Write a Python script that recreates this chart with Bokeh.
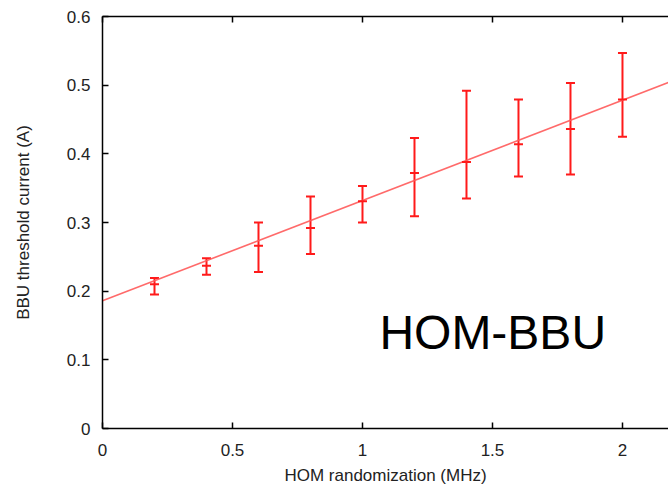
from bokeh.plotting import figure
from bokeh.models import ColumnDataSource, Whisker, TeeHead, LinearAxis, Label, Range1d, FixedTicker
from bokeh.embed import file_html
from bokeh.resources import INLINE

# ---- data ----
freq = [0.2, 0.4, 0.6, 0.8, 1.0, 1.2, 1.4, 1.6, 1.8, 2.0]
current = [0.210, 0.237, 0.266, 0.292, 0.331, 0.372, 0.388, 0.414, 0.436, 0.479]
err_low = [0.195, 0.224, 0.228, 0.254, 0.300, 0.309, 0.335, 0.367, 0.370, 0.425]
err_high = [0.219, 0.248, 0.300, 0.338, 0.353, 0.423, 0.492, 0.479, 0.503, 0.547]
fit_intercept = 0.186
fit_slope = 0.146
x_ticks = [0, 0.5, 1, 1.5, 2]
x_tick_labels = ["0", "0.5", "1", "1.5", "2"]
y_ticks = [0, 0.1, 0.2, 0.3, 0.4, 0.5, 0.6]
y_tick_labels = ["0", "0.1", "0.2", "0.3", "0.4", "0.5", "0.6"]
x_label = "HOM randomization (MHz)"
y_label = "BBU threshold current (A)"
annotation = "HOM-BBU"

X_MAX = 2.177
RED = "#ff1a1a"
FONT = "Liberation Sans"

p = figure(width=668, height=490, output_backend="svg", toolbar_location=None,
           x_range=Range1d(0, X_MAX), y_range=Range1d(0, 0.6),
           min_border_left=102, min_border_right=0, min_border_top=16, min_border_bottom=62)
p.outline_line_color = None
p.grid.visible = False
p.background_fill_color = "white"
p.border_fill_color = "white"

# fit line
fit_x = [0, X_MAX]
fit_y = [fit_intercept + fit_slope * v for v in fit_x]
p.line(fit_x, fit_y, line_color="#ff5a5a", line_width=1.6, line_alpha=0.9)

src = ColumnDataSource(dict(x=freq, y=current, lo=err_low, hi=err_high))
w = Whisker(source=src, base="x", lower="lo", upper="hi", line_color=RED, line_width=2,
            upper_head=TeeHead(size=9, line_color=RED, line_width=2),
            lower_head=TeeHead(size=9, line_color=RED, line_width=2))
p.add_layout(w)
p.scatter("x", "y", source=src, marker="dash", size=9, line_color=RED, line_width=2)

def style_axis(ax):
    ax.axis_line_color = "black"
    ax.axis_line_width = 1.5
    ax.major_tick_line_color = "black"
    ax.major_tick_line_width = 1.5
    ax.major_tick_in = 6
    ax.major_tick_out = 0
    ax.minor_tick_line_color = None
    ax.major_label_text_font = FONT
    ax.major_label_text_font_size = "17px"
    ax.major_label_text_color = "#222222"
    ax.axis_label_text_font = FONT
    ax.axis_label_text_font_size = "17px"
    ax.axis_label_text_font_style = "normal"
    ax.axis_label_text_color = "#222222"

xa = p.xaxis[0]
style_axis(xa)
xa.ticker = FixedTicker(ticks=x_ticks)
xa.major_label_overrides = {t: l for t, l in zip(x_ticks, x_tick_labels)}
xa.major_label_standoff = 15
xa.axis_label = x_label
xa.axis_label_standoff = 7

ya = p.yaxis[0]
style_axis(ya)
ya.ticker = FixedTicker(ticks=y_ticks)
ya.major_label_overrides = {t: l for t, l in zip(y_ticks, y_tick_labels)}
ya.major_label_standoff = 12
ya.axis_label = y_label
ya.axis_label_standoff = 31

top = LinearAxis(ticker=FixedTicker(ticks=x_ticks))
style_axis(top)
top.major_label_overrides = {t: "" for t in x_ticks}
top.major_label_standoff = 0
p.add_layout(top, "above")

p.add_layout(Label(x=1.065, y=0.14, text=annotation, text_font=FONT,
                   text_font_size="48px", text_color="black", text_baseline="alphabetic"))

open("out.html", "w").write(file_html(p, INLINE))
